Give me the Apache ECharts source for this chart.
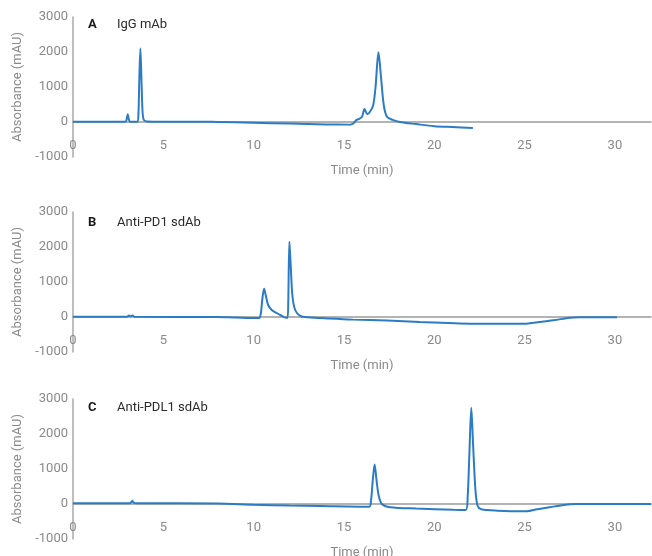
<!DOCTYPE html>
<html>
<head>
<meta charset="utf-8">
<script src="https://cdn.jsdelivr.net/npm/echarts@6/dist/echarts.min.js"></script>
<style>html,body{margin:0;padding:0;background:#fff}#c{width:652px;height:556px}</style>
</head>
<body>
<div id="c"></div>
<script>
// Panel A: IgG mAb
const timeA = [0, 2.9, 2.98, 3.03, 3.08, 3.15, 3.55, 3.62, 3.67, 3.73, 3.79, 3.85, 3.92, 4.1, 5, 7, 8, 10, 12, 14, 15.3, 15.5, 15.7, 15.85, 16.0, 16.14, 16.3, 16.45, 16.62, 16.75, 16.91, 17.05, 17.2, 17.38, 17.7, 18.1, 19, 20, 21, 22.14];
const absA  = [5, 5, 100, 220, 100, 10, 5, 200, 1200, 2100, 1200, 300, 60, 15, 10, 10, 0, -20, -45, -70, -75, -50, 60, 90, 150, 370, 220, 300, 480, 1000, 1990, 1300, 500, 150, 60, 0, -60, -120, -145, -170];
// Panel B: Anti-PD1 sdAb
const timeB = [0, 3.0, 3.1, 3.2, 3.3, 3.4, 8, 9, 10.3, 10.4, 10.48, 10.58, 10.68, 10.8, 11.0, 11.26, 11.5, 11.8, 11.88, 11.92, 11.98, 12.06, 12.15, 12.3, 12.58, 13, 14.2, 15.5, 17.4, 19.2, 22.4, 25.1, 25.5, 26.6, 27.5, 28, 30.12];
const absB  = [10, 10, 40, 20, 40, 10, 0, -15, -30, 100, 500, 810, 600, 350, 200, 120, 50, -20, -20, 500, 2150, 1400, 600, 200, 30, -10, -45, -75, -100, -140, -190, -190, -165, -95, -20, -5, -5];
// Panel C: Anti-PDL1 sdAb
const timeC = [0, 3.15, 3.25, 3.29, 3.33, 3.45, 8, 10, 12, 13.7, 16.4, 16.5, 16.6, 16.7, 16.8, 16.92, 17.1, 17.56, 19, 21.07, 21.75, 21.85, 21.95, 22.05, 22.15, 22.28, 22.4, 22.6, 23.5, 25.13, 25.7, 27.0, 27.9, 32];
const absC  = [20, 20, 70, 90, 50, 25, 15, -20, -45, -60, -80, 100, 700, 1130, 700, 250, 0, -90, -130, -165, -170, 200, 1500, 2750, 1700, 400, -50, -150, -190, -205, -150, -40, 0, 0];

const panelLetters = ['A', 'B', 'C'];
const panelNames = ['IgG mAb', 'Anti-PD1 sdAb', 'Anti-PDL1 sdAb'];
const yTicks = [-1000, 0, 1000, 2000, 3000];
const xTicks = [0, 5, 10, 15, 20, 25, 30];

const times = [timeA, timeB, timeC];
const abss = [absA, absB, absC];

const tops = [17, 212, 399];
const titleY = [24.5, 222.5, 407.5];
const H = 140;
const FONT = 'Roboto, "Noto Sans", sans-serif';

const chart = echarts.init(document.getElementById('c'), null, {renderer: 'canvas'});
const grids = [], xAxes = [], yAxes = [], series = [], graphics = [];
tops.forEach((t, i) => {
  grids.push({left: 73, right: 1, top: t, height: H, containLabel: false, outerBoundsMode: 'none'});
  xAxes.push({
    type: 'value', gridIndex: i, min: 0, max: 32, interval: 5,
    name: 'Time (min)', nameLocation: 'middle', nameGap: 7,
    nameTextStyle: {color: '#8a8a8a', fontSize: 13, fontFamily: FONT},
    axisLine: {onZero: true, lineStyle: {color: '#9a9a9a', width: 1.5}},
    axisTick: {show: false},
    splitLine: {show: false},
    axisLabel: {color: '#8a8a8a', fontSize: 13, fontFamily: FONT, margin: -18, showMaxLabel: false,
      formatter: v => (xTicks.indexOf(v) >= 0 ? String(v) : '')}
  });
  yAxes.push({
    type: 'value', gridIndex: i, min: yTicks[0], max: yTicks[yTicks.length - 1], interval: 1000,
    name: 'Absorbance (mAU)', nameLocation: 'middle', nameGap: 42,
    nameTextStyle: {color: '#8a8a8a', fontSize: 13, fontFamily: FONT},
    axisLine: {show: true, onZero: false, lineStyle: {color: '#a8a8a8', width: 1.5}},
    axisTick: {show: false},
    splitLine: {show: false},
    axisLabel: {color: '#8a8a8a', fontSize: 13, fontFamily: FONT, margin: 5,
      formatter: v => String(v)}
  });
  series.push({
    type: 'line', xAxisIndex: i, yAxisIndex: i, showSymbol: false, smooth: 0.3,
    lineStyle: {color: '#2b7cc4', width: 2}, itemStyle: {color: '#2b7cc4'},
    data: times[i].map((x, k) => [x, abss[i][k]])
  });
  graphics.push({type: 'text', x: 88, y: titleY[i], style: {text: panelLetters[i], font: 'bold 13px ' + FONT, fill: '#1a1a1a', verticalAlign: 'middle'}});
  graphics.push({type: 'text', x: 117, y: titleY[i], style: {text: panelNames[i], font: '13px ' + FONT, fill: '#2a2a2a', verticalAlign: 'middle'}});
});

chart.setOption({
  animation: false,
  grid: grids, xAxis: xAxes, yAxis: yAxes, series: series, graphic: graphics
});
</script>
</body>
</html>
